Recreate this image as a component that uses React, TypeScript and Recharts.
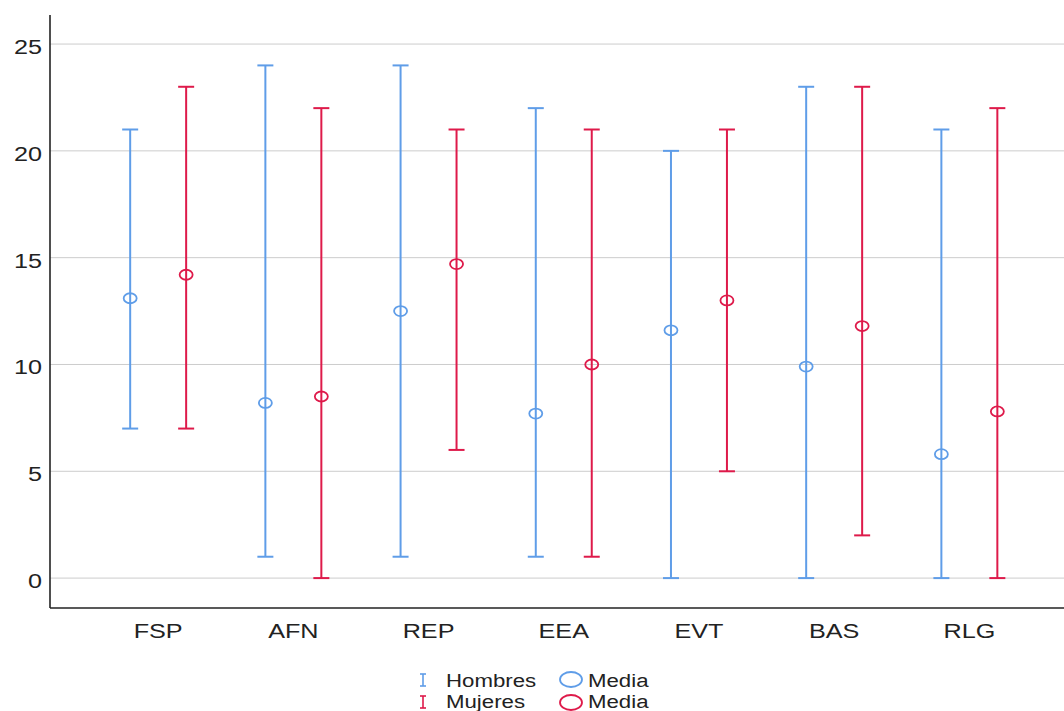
import React from 'react';
import { ScatterChart, Scatter, XAxis, YAxis, CartesianGrid, ErrorBar, Legend } from 'recharts';

const categories = ['FSP', 'AFN', 'REP', 'EEA', 'EVT', 'BAS', 'RLG'];

const hombresMean = [13.1, 8.2, 12.5, 7.7, 11.6, 9.9, 5.8];
const hombresMin = [7, 1, 1, 1, 0, 0, 0];
const hombresMax = [21, 24, 24, 22, 20, 23, 21];

const mujeresMean = [14.2, 8.5, 14.7, 10.0, 13.0, 11.8, 7.8];
const mujeresMin = [7, 0, 6, 1, 5, 2, 0];
const mujeresMax = [23, 22, 21, 21, 21, 23, 22];

const yTicks = [0, 5, 10, 15, 20, 25];

const BLUE = '#5f9de8';
const RED = '#de1a4a';
const OFFSET = 0.207;

const build = (mean: number[], min: number[], max: number[], off: number) =>
  categories.map((c, i) => ({
    name: c,
    x: i + off,
    y: mean[i],
    err: [mean[i] - min[i], max[i] - mean[i]],
  }));

const hombresData = build(hombresMean, hombresMin, hombresMax, -OFFSET);
const mujeresData = build(mujeresMean, mujeresMin, mujeresMax, OFFSET);

const FONT = '"Liberation Sans", Arial, sans-serif';

const YTick = (props: any) => {
  const { x, y, payload } = props;
  return (
    <text
      transform={`translate(${x},${y + 2.5}) scale(1.2,1)`}
      textAnchor="end"
      dy="0.355em"
      fontSize={21}
      fontFamily={FONT}
      fill="#222"
    >
      {payload.value}
    </text>
  );
};

const XTick = (props: any) => {
  const { x, y, payload } = props;
  const label = categories[Math.round(payload.value)] ?? '';
  return (
    <text
      transform={`translate(${x},${y + 22}) scale(1.2,1)`}
      textAnchor="middle"
      fontSize={21}
      fontFamily={FONT}
      fill="#222"
    >
      {label}
    </text>
  );
};

const makeShape = (color: string) => (props: any) => (
  <ellipse cx={props.cx} cy={props.cy} rx={6.5} ry={5} fill="none" stroke={color} strokeWidth={1.8} />
);

const LegendContent = () => {
  const t = (x: number, y: number, s: string) => (
    <text
      transform={`translate(${x},${y}) scale(1.17,1)`}
      fontSize={19}
      fontFamily={FONT}
      fill="#222"
    >
      {s}
    </text>
  );
  const ibeam = (cx: number, cy: number, color: string) => (
    <g stroke={color} strokeWidth={1.6}>
      <line x1={cx} y1={cy - 6} x2={cx} y2={cy + 6} />
      <line x1={cx - 3} y1={cy - 6} x2={cx + 3} y2={cy - 6} />
      <line x1={cx - 3} y1={cy + 6} x2={cx + 3} y2={cy + 6} />
    </g>
  );
  return (
    <svg width={260} height={51} style={{ display: 'block' }}>
      {ibeam(13, 20, BLUE)}
      {t(36, 27, 'Hombres')}
      {ibeam(13, 42, RED)}
      {t(36, 48, 'Mujeres')}
      <ellipse cx={161} cy={19.5} rx={11} ry={7.5} fill="none" stroke={BLUE} strokeWidth={1.8} />
      {t(178, 27, 'Media')}
      <ellipse cx={161} cy={42.5} rx={11} ry={7.5} fill="none" stroke={RED} strokeWidth={1.8} />
      {t(178, 48, 'Media')}
    </svg>
  );
};

export default function App() {
  return (
    <div style={{ position: 'absolute', left: 0, top: 0, width: 1064, height: 711, background: '#fff' }}>
      <ScatterChart width={1064} height={711} margin={{ top: 15, right: 0, bottom: 63, left: 0 }}>
        <CartesianGrid vertical={false} horizontalValues={yTicks} stroke="#cccccc" strokeWidth={1} />
        <XAxis
          type="number"
          dataKey="x"
          domain={[-0.8, 6.7]}
          ticks={[0, 1, 2, 3, 4, 5, 6]}
          allowDataOverflow
          interval={0}
          tickLine={false}
          axisLine={{ stroke: '#222', strokeWidth: 1.6 }}
          tick={<XTick />}
          height={40}
        />
        <YAxis
          type="number"
          dataKey="y"
          domain={[-1.4, 26.36]}
          ticks={yTicks}
          allowDataOverflow
          interval={0}
          tickLine={false}
          axisLine={{ stroke: '#222', strokeWidth: 1.6 }}
          tick={<YTick />}
          width={50}
        />
        <Legend
          layout="vertical"
          align="center"
          verticalAlign="middle"
          wrapperStyle={{ top: 660, left: 410, width: 260, height: 51 }}
          content={<LegendContent />}
        />
        <Scatter name="Hombres" data={hombresData} shape={makeShape(BLUE)} isAnimationActive={false}>
          <ErrorBar dataKey="err" direction="y" width={8} stroke={BLUE} strokeWidth={2} isAnimationActive={false} />
        </Scatter>
        <Scatter name="Mujeres" data={mujeresData} shape={makeShape(RED)} isAnimationActive={false}>
          <ErrorBar dataKey="err" direction="y" width={8} stroke={RED} strokeWidth={2} isAnimationActive={false} />
        </Scatter>
      </ScatterChart>
    </div>
  );
}
